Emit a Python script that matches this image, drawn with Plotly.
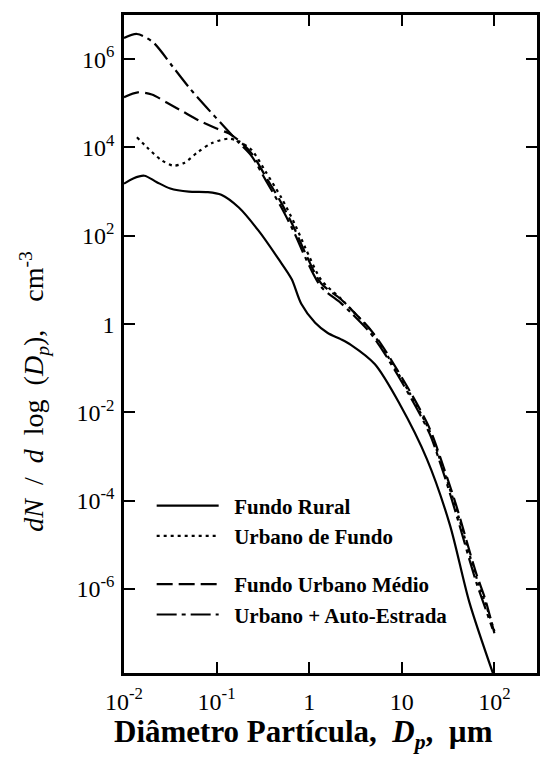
import numpy as np
import plotly.graph_objects as go

# ---- data (log10 of diameter in µm, log10 of dN/dlogDp in cm^-3) ----
rural_logdp = [-2.0, -1.9, -1.78, -1.65, -1.5, -1.3, -1.1, -0.95, -0.76, -0.545, -0.33, -0.19,
               -0.086, 0.064, 0.2, 0.34, 0.45, 0.71, 0.98, 1.27, 1.52, 1.73, 2.0]
rural_logn = [3.18, 3.30, 3.36, 3.22, 3.07, 3.0, 2.99, 2.93, 2.64, 2.11, 1.47, 1.02,
              0.46, 0.03, -0.2, -0.34, -0.47, -0.91, -1.82, -3.05, -4.55, -6.3, -8.0]

urb_fundo_logdp = [-1.86, -1.75, -1.6, -1.47, -1.35, -1.2, -1.05, -0.87, -0.76, -0.62, -0.47, -0.3,
                   -0.15, -0.04, 0.13, 0.34, 0.45, 0.66, 0.81, 1.09, 1.3, 1.45, 1.59, 1.8, 1.9, 2.0]
urb_fundo_logn = [4.23, 4.0, 3.72, 3.59, 3.65, 3.9, 4.1, 4.2, 4.14, 3.94, 3.45, 2.86,
                  2.24, 1.72, 1.0, 0.58, 0.34, -0.13, -0.6, -1.58, -2.42, -3.3, -4.2, -5.7, -6.3, -6.95]

medio_logdp = [-2.0, -1.85, -1.7, -1.54, -1.37, -1.19, -1.0, -0.87, -0.76, -0.62, -0.47, -0.3,
               -0.15, -0.04, 0.13, 0.34, 0.45, 0.66, 0.81, 1.09, 1.3, 1.45, 1.59, 1.8, 1.9, 2.0]
medio_logn = [5.14, 5.25, 5.2, 5.02, 4.82, 4.61, 4.43, 4.32, 4.16, 3.86, 3.34, 2.74,
              2.12, 1.6, 0.92, 0.57, 0.34, -0.12, -0.56, -1.53, -2.36, -3.23, -4.12, -5.62, -6.22, -7.0]

estrada_logdp = [-2.0, -1.86, -1.69, -1.47, -1.29, -1.11, -0.9, -0.76, -0.62, -0.47, -0.3,
                 -0.15, -0.04, 0.13, 0.34, 0.45, 0.66, 0.81, 1.09, 1.3, 1.45, 1.59, 1.8, 1.9, 1.98]
estrada_logn = [6.48, 6.57, 6.39, 5.82, 5.34, 4.91, 4.43, 4.11, 3.8, 3.26, 2.64,
                2.02, 1.5, 0.84, 0.48, 0.26, -0.2, -0.65, -1.64, -2.48, -3.37, -4.32, -5.82, -6.42, -6.9]

x_tickvals = [0.01, 0.1, 1, 10, 100]
x_ticktext = ["10<sup>-2</sup>", "10<sup>-1</sup>", "1", "10", "10<sup>2</sup>"]
y_tickvals = [1e6, 1e4, 1e2, 1, 1e-2, 1e-4, 1e-6]
y_ticktext = ["10<sup>6</sup>", "10<sup>4</sup>", "10<sup>2</sup>", "1",
              "10<sup>-2</sup>", "10<sup>-4</sup>", "10<sup>-6</sup>"]

names = ["Fundo Rural", "Urbano de Fundo", "Fundo Urbano Médio", "Urbano + Auto-Estrada"]

SERIF = "Liberation Serif, Times New Roman, serif"

def pw(a):
    return np.power(10.0, np.array(a, dtype=float))

fig = go.Figure()
series = [
    (rural_logdp, rural_logn, "solid", "g1"),
    (urb_fundo_logdp, urb_fundo_logn, "3px,4px", "g1"),
    (medio_logdp, medio_logn, "16px,6px", "g2"),
    (estrada_logdp, estrada_logn, "20px,5px,4px,5px", "g2"),
]
for (lx, ly, dash, grp), nm in zip(series, names):
    fig.add_trace(go.Scatter(
        x=pw(lx), y=pw(ly), mode="lines", name="&nbsp;&nbsp;" + nm, legendgroup=grp,
        line=dict(color="black", width=2.2, dash=dash, shape="spline", smoothing=0.8),
    ))

axis_common = dict(
    type="log", showgrid=False, zeroline=False, showline=True, linecolor="black",
    linewidth=2.5, mirror="ticks", ticks="inside", ticklen=11, tickwidth=2,
    tickcolor="black", tickfont=dict(family=SERIF, size=24, color="black"),
)
fig.update_xaxes(**axis_common, range=[-2, 2.46], tickvals=x_tickvals, ticktext=x_ticktext,
                 ticklabelstandoff=5)
fig.update_yaxes(**axis_common, range=[-7.9, 7.0], tickvals=y_tickvals, ticktext=y_ticktext,
                 ticklabelstandoff=2)

fig.update_layout(
    width=540, height=758,
    margin=dict(l=124, r=0, t=15, b=85),
    paper_bgcolor="white", plot_bgcolor="white",
    showlegend=True,
    legend=dict(
        x=0.067, y=0.285, xanchor="left", yanchor="top",
        bgcolor="rgba(0,0,0,0)", borderwidth=0,
        font=dict(family=SERIF, size=21, color="black", weight="bold"),
        traceorder="grouped", tracegroupgap=18, itemwidth=62,
    ),
    annotations=[
        dict(text="Diâmetro Partícula,  <i>D<sub>p</sub></i>,  µm", xref="paper", yref="paper",
             x=(305 - 124) / 416, y=-(734 - 673) / 658, xanchor="center", yanchor="middle",
             showarrow=False, font=dict(family=SERIF, size=31, color="black", weight="bold")),
        dict(text="<i>dN</i>&nbsp; /&nbsp; <i>d</i>&nbsp; log&nbsp; (<i>D<sub>p</sub></i>),&nbsp;&nbsp;&nbsp; cm<sup>-3</sup>",
             xref="paper", yref="paper", textangle=-90,
             x=(33 - 124) / 416, y=(673 - 391) / 658, xanchor="center", yanchor="middle",
             showarrow=False, font=dict(family=SERIF, size=28, color="black")),
    ],
)

fig.write_html("out.html")
